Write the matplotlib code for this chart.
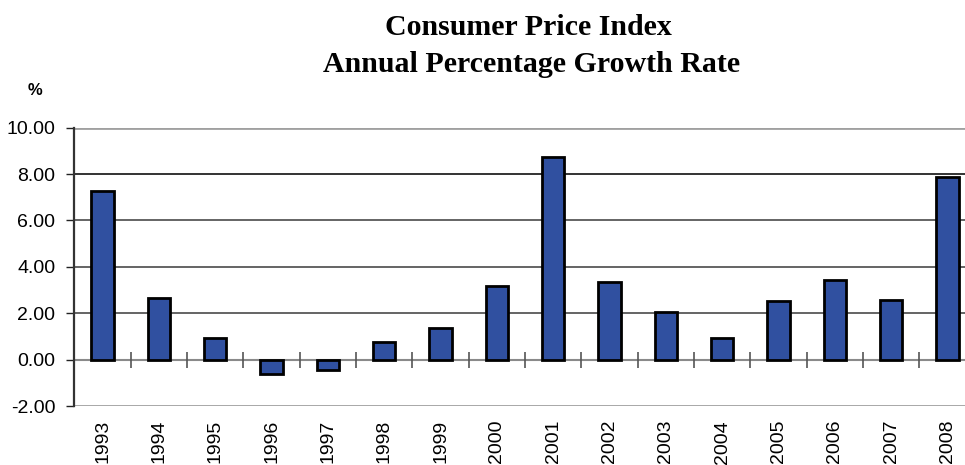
import matplotlib
matplotlib.use("Agg")
import matplotlib.pyplot as plt
import numpy as np

years = ["1993", "1994", "1995", "1996", "1997", "1998", "1999", "2000",
         "2001", "2002", "2003", "2004", "2005", "2006", "2007", "2008"]
cpi_growth = [7.28, 2.65, 0.94, -0.61, -0.43, 0.77, 1.37, 3.18,
              8.73, 3.35, 2.06, 0.95, 2.51, 3.43, 2.58, 7.88]
y_ticks = [-2, 0, 2, 4, 6, 8, 10]
y_tick_labels = ["-2.00", "0.00", "2.00", "4.00", "6.00", "8.00", "10.00"]
title_line1 = "Consumer Price Index"
title_line2 = "Annual Percentage Growth Rate"
y_unit = "%"

W, H = 965, 465
fig = plt.figure(figsize=(W / 100, H / 100), dpi=100)
ax = fig.add_axes([74.4 / W, 1 - 406 / H, (975.6 - 74.4) / W, (406 - 127.7) / H])

x = np.arange(len(years))
ax.set_xlim(-0.5, len(years) - 0.5)
ax.set_ylim(-2, 10)

# gridlines
for v in [2, 4, 6]:
    ax.axhline(v, color="#3a3a3a", lw=1.1, zorder=1)
ax.axhline(8, color="#111111", lw=1.2, zorder=1)
ax.axhline(10, color="#a0a0a0", lw=2.0, zorder=1)
ax.axhline(-2, color="#a0a0a0", lw=2.0, zorder=1)
ax.axhline(0, color="#8a8a8a", lw=1.5, zorder=1)

ax.bar(x, cpi_growth, width=0.4, color="#3050a0", edgecolor="black",
       linewidth=2, zorder=3)

# category boundary ticks crossing zero line
bounds = x[:-1] + 0.5
ax.vlines(bounds, -0.34, 0.34, color="#555555", lw=1.2, zorder=2)

for s in ["top", "right", "bottom"]:
    ax.spines[s].set_visible(False)
ax.spines["left"].set_color("#333333")
ax.spines["left"].set_linewidth(1.6)

ax.set_yticks(y_ticks)
ax.set_yticklabels(y_tick_labels, fontsize=14, family="Liberation Sans")
ax.tick_params(axis="y", length=5.8, width=1, color="#222222", pad=8)

ax.set_xticks(x)
ax.set_xticklabels(years, rotation=90, fontsize=14, family="Liberation Sans")
ax.tick_params(axis="x", length=0, pad=10)

fig.text(528 / W, 1 - 35 / H, title_line1, ha="center", va="baseline",
         fontsize=21.5, fontweight="bold", family="Liberation Serif")
fig.text(532 / W, 1 - 72 / H, title_line2, ha="center", va="baseline",
         fontsize=21.5, fontweight="bold", family="Liberation Serif")
fig.text(35 / W, 1 - 95 / H, y_unit, ha="center", va="baseline",
         fontsize=12, fontweight="bold", family="Liberation Sans")

fig.savefig("out.png", dpi=100, facecolor="white")
